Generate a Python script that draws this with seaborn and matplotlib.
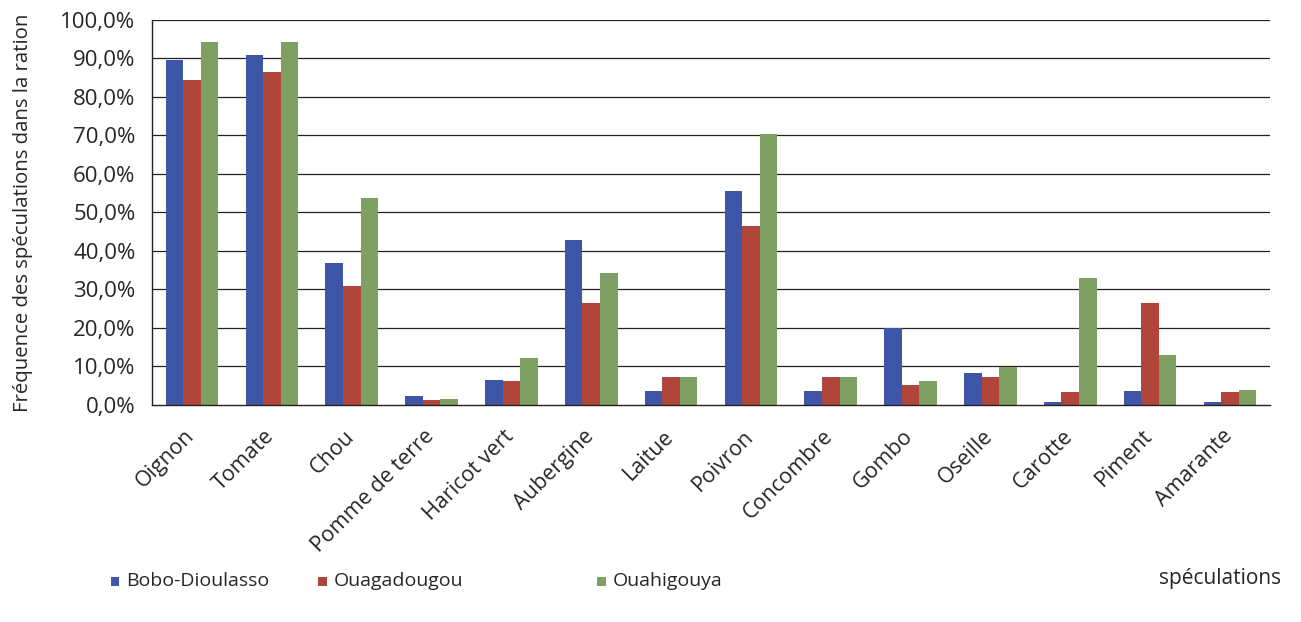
import matplotlib
matplotlib.use("Agg")
import matplotlib.pyplot as plt
import matplotlib.ticker as mticker
import matplotlib.transforms as mtransforms
from matplotlib.patches import Rectangle
import seaborn as sns
import pandas as pd

categories = ["Oignon", "Tomate", "Chou", "Pomme de terre", "Haricot vert", "Aubergine",
              "Laitue", "Poivron", "Concombre", "Gombo", "Oseille", "Carotte", "Piment", "Amarante"]
series_names = ["Bobo-Dioulasso", "Ouagadougou", "Ouahigouya"]
bobo = [89.5, 90.9, 36.9, 2.3, 6.6, 42.9, 3.6, 55.6, 3.6, 20.0, 8.2, 0.7, 3.6, 0.8]
ouaga = [84.4, 86.5, 30.9, 1.3, 6.2, 26.5, 7.2, 46.5, 7.2, 5.3, 7.3, 3.3, 26.5, 3.3]
ouahi = [94.3, 94.3, 53.8, 1.6, 12.2, 34.3, 7.2, 70.4, 7.2, 6.2, 9.8, 33.0, 13.0, 4.0]
y_ticks = [0, 10, 20, 30, 40, 50, 60, 70, 80, 90, 100]
colors = ["#3F55A5", "#B0463B", "#7FA064"]

rows = []
for name, vals in zip(series_names, [bobo, ouaga, ouahi]):
    for c, v in zip(categories, vals):
        rows.append({"cat": c, "ville": name, "val": v})
df = pd.DataFrame(rows)

sns.set_theme(style="white")
plt.rcParams["font.family"] = ["Open Sans", "DejaVu Sans"]

fig = plt.figure(figsize=(13.01, 6.22), dpi=100)
ax = fig.add_axes([0.117, 0.349, 0.859, 0.619])

sns.barplot(data=df, x="cat", y="val", hue="ville", order=categories,
            hue_order=series_names, palette=colors, width=0.66, saturation=1,
            ax=ax, legend=False, errorbar=None, linewidth=0)

ax.set_ylim(0, 100)
ax.set_xlim(-0.5, len(categories) - 0.5)
ax.set_yticks(y_ticks)
ax.yaxis.set_major_formatter(mticker.FuncFormatter(lambda v, p: f"{v:.1f}%".replace(".", ",")))
for t in y_ticks[1:]:
    ax.axhline(t, color="#222222", lw=0.9, zorder=0)

for s in ["top", "right"]:
    ax.spines[s].set_visible(False)
for s in ["left", "bottom"]:
    ax.spines[s].set_color("#222222")
    ax.spines[s].set_linewidth(1.0)

ax.set_xticks(range(len(categories)))
ax.set_xticklabels(categories, rotation=45, ha="right", rotation_mode="anchor", fontsize=15.5)
ax.tick_params(axis="x", length=0, pad=15)
offset = mtransforms.ScaledTranslation(-8 / 100, 0, fig.dpi_scale_trans)
for lbl in ax.get_xticklabels():
    lbl.set_transform(lbl.get_transform() + offset)
ax.set_xticks([i - 0.5 for i in range(len(categories) + 1)], minor=True)
ax.tick_params(axis="x", which="minor", length=7, direction="inout", color="#222222", width=1)
ax.tick_params(axis="y", length=10, direction="inout", color="#222222", width=1, labelsize=16, pad=7)

ax.set_xlabel("")
ax.set_ylabel("Fréquence des spéculations dans la ration", fontsize=14.7, labelpad=20)

legend_x = [0.0853, 0.2445, 0.4590]
for x, c, name in zip(legend_x, colors, series_names):
    fig.add_artist(Rectangle((x, 0.058), 0.0065, 0.0145, transform=fig.transFigure,
                             facecolor=c, edgecolor="none"))
    fig.text(x + 0.012, 0.066, name, ha="left", va="center", fontsize=14)
fig.text(0.985, 0.07, "spéculations", ha="right", va="center", fontsize=15)

fig.savefig("out.png", dpi=100)
